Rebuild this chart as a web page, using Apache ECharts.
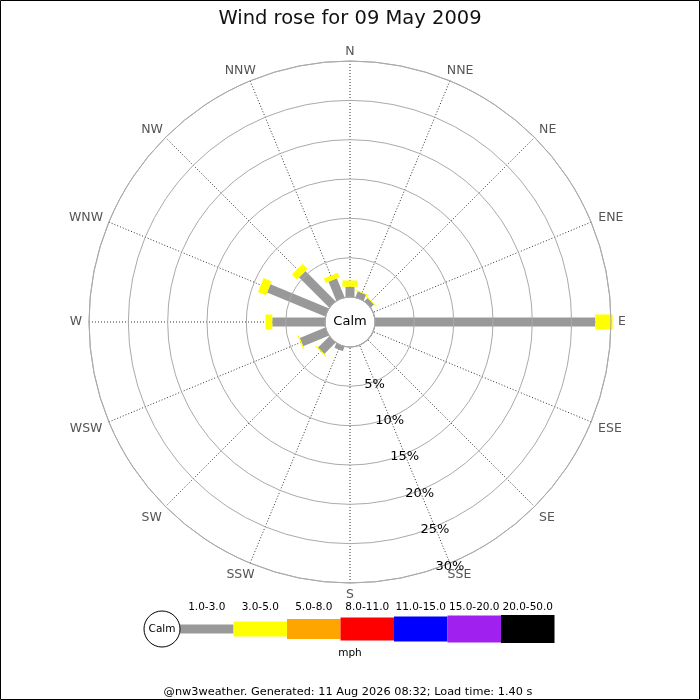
<!DOCTYPE html>
<html>
<head>
<meta charset="utf-8">
<title>Wind rose</title>
<script src="https://cdn.jsdelivr.net/npm/echarts@6/dist/echarts.min.js"></script>
<style>
  html, body { margin: 0; padding: 0; background: #fff; }
  #chart { width: 700px; height: 700px; }
</style>
</head>
<body>
<div id="chart"></div>
<script>
// compass points, clockwise from north
const directions = ['N', 'NNE', 'NE', 'ENE', 'E', 'ESE', 'SE', 'SSE', 'S', 'SSW', 'SW', 'WSW', 'W', 'WNW', 'NW', 'NNW'];
// % of readings per direction, by speed class (mph)
const speed1to3 = [1.3, 0.8, 0.55, 0, 28.0, 0, 0, 0, 0, 0.6, 2.0, 3.5, 6.7, 8.0, 5.4, 2.6];
const speed3to5 = [0.8, 0.1, 0.1, 0, 2.2, 0, 0, 0, 0, 0, 0.15, 0.15, 0.86, 1.1, 0.9, 0.6];
// speed classes shown in the key
const speedBins = ['1.0-3.0', '3.0-5.0', '5.0-8.0', '8.0-11.0', '11.0-15.0', '15.0-20.0', '20.0-50.0'];
// radial rings
const pctTicks = [0, 5, 10, 15, 20, 25, 30];

const titleText = 'Wind rose for 09 May 2009';
const footerText = '@nw3weather. Generated: 11 Aug 2026 08:32; Load time: 1.40 s';

// styles
const binColors = ['#999999', '#ffff00', '#ffa500', '#ff0000', '#0000ff', '#a020f0', '#000000'];
const binWidths = [9, 15, 20, 23, 25, 27, 28];
const font = 'DejaVu Sans';
// nudges for the compass labels [top, right, bottom, left], same order as directions
const dirLabelPad = [
  [0, 0, -2, 0], [0, 0, -1, -5], [0, 0, -2, 1], [0, 0, -4.5, 2.5],
  [0, 0, 0, 2], [-1.7, 0, 0, 2.3], [1, 0, 0, 1], [0, 0, 0, -4.2],
  [0, 0, 0, 0], [0, -6.4, 0, 0], [1, 0, 0, 0], [-1.7, 1.8, 0, 0],
  [0, 1.8, 0, 0], [0, 1.2, -4, 0], [0, -1, -2.3, 0], [0, -7.6, -1, 0]
];

// layout
const cx = 350, cy = 322;
const innerR = 25, outerR = 261;

const chart = echarts.init(document.getElementById('chart'), null, { renderer: 'canvas' });

// stacked segments: [dirIndex, from, to]
function stackData(layers) {
  let out = layers.map(() => []);
  directions.forEach((d, i) => {
    let acc = 0;
    layers.forEach((layer, k) => {
      let v = layer[i] || 0;
      out[k].push([i, acc, acc + v]);
      acc += v;
    });
  });
  return out;
}

// a straight bar of fixed pixel width along the direction
function barRenderer(width, color) {
  return function (params, api) {
    let dir = api.value(0), from = api.value(1), to = api.value(2);
    if (!(to > from)) return null;
    let a = api.coord([from, dir]);
    let b = api.coord([to, dir]);
    let dx = b[0] - a[0], dy = b[1] - a[1];
    let len = Math.sqrt(dx * dx + dy * dy) || 1;
    let nx = -dy / len * width / 2, ny = dx / len * width / 2;
    return {
      type: 'polygon',
      shape: {
        points: [
          [a[0] + nx, a[1] + ny], [b[0] + nx, b[1] + ny],
          [b[0] - nx, b[1] - ny], [a[0] - nx, a[1] - ny]
        ]
      },
      style: { fill: color }
    };
  };
}

const layers = stackData([speed1to3, speed3to5]);
const series = layers.map((data, k) => ({
  name: speedBins[k],
  type: 'custom',
  coordinateSystem: 'polar',
  polarIndex: 0,
  encode: { angle: 0, radius: 2 },
  renderItem: barRenderer(binWidths[k], binColors[k]),
  data: data,
  z: 5 + k,
  silent: true
}));

// key below the rose
function buildKey() {
  let items = [];
  let keyY = 629, calmX = 162, calmR = 18, segW = 53.5;
  let x0 = calmX + calmR;
  speedBins.forEach((label, k) => {
    let h = binWidths[k];
    items.push({
      type: 'rect',
      shape: { x: x0 + k * segW, y: keyY - h / 2, width: segW, height: h },
      style: { fill: binColors[k] }
    });
    items.push({
      type: 'text',
      x: x0 + k * segW + segW / 2, y: 607.5,
      style: { text: label, fontSize: 10.5, fontFamily: font, fill: '#000', align: 'center', verticalAlign: 'middle' }
    });
  });
  items.push({
    type: 'circle',
    shape: { cx: calmX, cy: keyY, r: calmR },
    style: { fill: '#fff', stroke: '#000', lineWidth: 1 }
  });
  items.push({
    type: 'text', x: calmX, y: keyY,
    style: { text: 'Calm', fontSize: 10.5, fontFamily: font, fill: '#000', align: 'center', verticalAlign: 'middle' }
  });
  items.push({
    type: 'text', x: 350, y: 653.5,
    style: { text: 'mph', fontSize: 10.5, fontFamily: font, fill: '#000', align: 'center', verticalAlign: 'middle' }
  });
  return items;
}

const option = {
  animation: false,
  backgroundColor: '#fff',
  textStyle: { fontFamily: font },
  title: {
    text: titleText,
    left: 'center',
    top: 4,
    textStyle: { fontSize: 19.5, fontWeight: 'normal', color: '#111', fontFamily: font }
  },
  polar: [
    { center: [cx, cy], radius: [innerR, outerR] },
    { center: [cx, cy], radius: [innerR, outerR] }
  ],
  angleAxis: [{
    polarIndex: 0,
    type: 'category',
    data: directions.map((d, i) => ({ value: d, textStyle: { padding: dirLabelPad[i] } })),
    startAngle: 90,
    clockwise: true,
    boundaryGap: false,
    axisLine: { show: true, lineStyle: { color: '#aaa', width: 1 } },
    axisTick: { show: false },
    axisLabel: { margin: 5, color: '#555', fontSize: 12.5, fontFamily: font },
    splitLine: { show: true, lineStyle: { color: '#333', width: 1, type: [1, 2] } }
  }, {
    // full-circle helper: draws the rings and turns the % scale towards SSE
    polarIndex: 1,
    type: 'value',
    min: 0,
    max: 360,
    startAngle: -67.5,
    show: false
  }],
  radiusAxis: [{
    polarIndex: 0,
    type: 'value',
    min: pctTicks[0],
    max: pctTicks[pctTicks.length - 1],
    interval: 5,
    axisLine: { show: false },
    axisTick: { show: false },
    axisLabel: { show: false },
    splitLine: { show: false }
  }, {
    polarIndex: 1,
    type: 'value',
    min: pctTicks[0],
    max: pctTicks[pctTicks.length - 1],
    interval: 5,
    axisLine: { show: false },
    axisTick: { show: false },
    splitLine: { show: true, lineStyle: { color: '#aaa', width: 1 } },
    axisLabel: {
      margin: 0,
      align: 'center',
      verticalAlign: 'top',
      padding: [-3.5, 0, 0, 0],
      color: '#000',
      fontSize: 13,
      fontFamily: font,
      formatter: v => (v === 0 ? '' : v + '%')
    },
    z: 20
  }],
  graphic: [
    {
      type: 'rect', z: 100,
      shape: { x: 0.5, y: 0.5, width: 699, height: 699 },
      style: { fill: 'none', stroke: '#000', lineWidth: 1 }
    },
    {
      type: 'group', z: 100,
      children: [
        { type: 'circle', shape: { cx: cx, cy: cy, r: innerR }, style: { fill: '#fff', stroke: '#999', lineWidth: 1.2 } },
        { type: 'text', x: cx, y: cy, style: { text: 'Calm', fontSize: 13, fontFamily: font, fill: '#000', align: 'center', verticalAlign: 'middle' } }
      ]
    },
    { type: 'group', z: 100, children: buildKey() },
    {
      type: 'text', z: 100, x: 348, y: 692.5,
      style: { text: footerText, fontSize: 11.3, fontFamily: font, fill: '#000', align: 'center', verticalAlign: 'middle' }
    }
  ],
  series: series
};

chart.setOption(option);
</script>
</body>
</html>
